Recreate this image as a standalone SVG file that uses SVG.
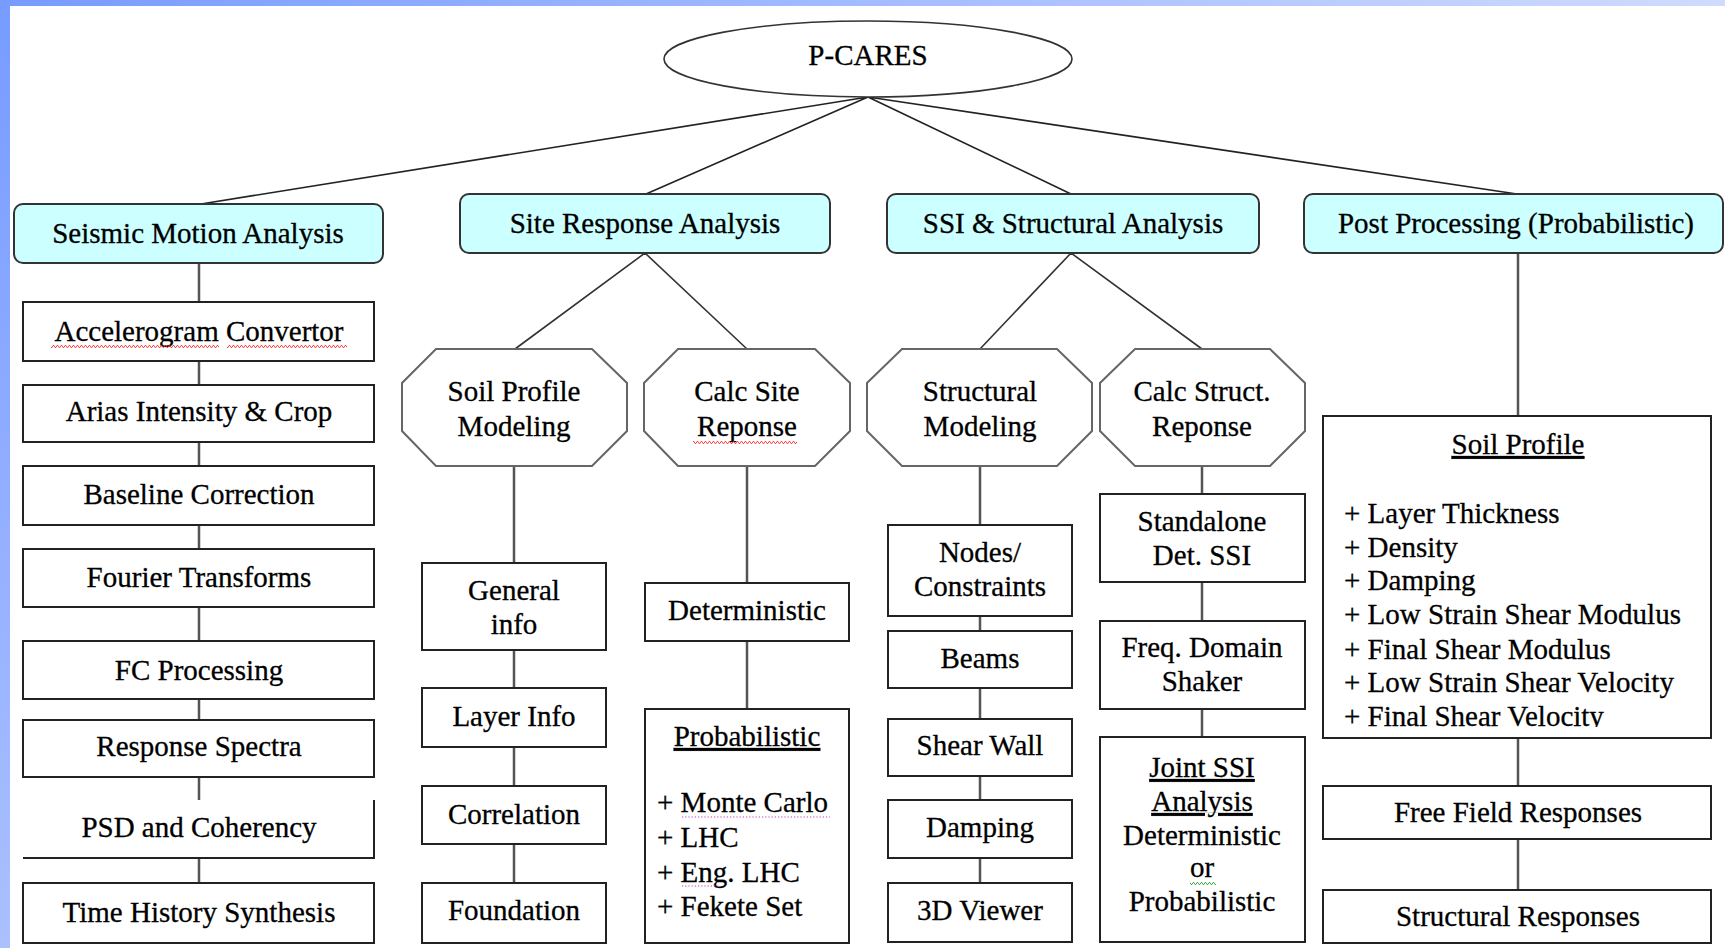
<svg xmlns="http://www.w3.org/2000/svg" width="1725" height="948" viewBox="0 0 1725 948">
<style>
text{font-family:'Times New Roman','Liberation Serif','Tinos','DejaVu Serif',serif;font-size:29px;fill:#000;stroke:#000;stroke-width:0.3;text-anchor:middle}
.l{text-anchor:start}
.u{text-decoration:underline}
.lvl1{fill:#ccffff;stroke:#333;stroke-width:2}
.box{fill:#fff;stroke:#222;stroke-width:2}
.oct{fill:#fff;stroke:#666;stroke-width:2}
.top{stroke:#222;stroke-width:1.6;fill:none}
.con{stroke:#555;stroke-width:2.5;fill:none}
.diag{stroke:#333;stroke-width:1.6;fill:none}
.sqr{fill:url(#wavyR)}
.sqg{fill:url(#wavyG)}
.dot{stroke:#c040c0;stroke-width:1.2;stroke-dasharray:1.2 2;fill:none}
</style>
<defs>
<linearGradient id="gTop" x1="0" y1="0" x2="1" y2="0"><stop offset="0" stop-color="#779bff"/><stop offset="1" stop-color="#cfdbff"/></linearGradient>
<linearGradient id="gLeft" x1="0" y1="0" x2="0" y2="1"><stop offset="0" stop-color="#779bff"/><stop offset="1" stop-color="#aac0ff"/></linearGradient>
<pattern id="wavyR" width="4" height="3" patternUnits="userSpaceOnUse"><path d="M0,2.5 L1,0.5 L2,0.5 L3,2.5 L4,2.5" stroke="#ff2020" stroke-width="0.8" fill="none"/></pattern>
<pattern id="wavyG" width="4" height="3" patternUnits="userSpaceOnUse"><path d="M0,2.5 L1,0.5 L2,0.5 L3,2.5 L4,2.5" stroke="#20a020" stroke-width="0.8" fill="none"/></pattern>
<clipPath id="clipSoil"><rect x="1324" y="417" width="386" height="310"/></clipPath>
</defs>
<rect width="1725" height="948" fill="#fff"/>
<rect x="0" y="0" width="1725" height="6" fill="url(#gTop)"/>
<rect x="0" y="0" width="10" height="948" fill="url(#gLeft)"/>

<g id="connectors">
<path class="top" d="M868,97 L201,204 M868,97 L646,194 M868,97 L1071,194 M868,97 L1517,194"/>
<path class="diag" d="M645,253 L515,349 M645,253 L747,349 M1071,253 L980,349 M1071,253 L1202,349"/>
<path class="con" d="M199,263 V302 M199,361 V385 M199,442 V466 M199,525 V549 M199,607 V641 M199,699 V720 M199,777 V800 M199,858 V883"/>
<path class="con" d="M514,466 V563 M514,650 V688 M514,747 V786 M514,844 V883"/>
<path class="con" d="M747,466 V583 M747,641 V709"/>
<path class="con" d="M980,466 V525 M980,616 V631 M980,688 V719 M980,776 V800 M980,858 V883"/>
<path class="con" d="M1202,466 V494 M1202,582 V621 M1202,709 V737"/>
<path class="con" d="M1518,253 V416 M1518,738 V786 M1518,839 V890"/>
</g>

<g id="pcares">
<ellipse cx="868" cy="59" rx="204" ry="38" fill="#fff" stroke="#333" stroke-width="1.6"/>
<text x="868" y="65">P-CARES</text>
</g>

<g id="seismic-motion-analysis">
<rect class="lvl1" x="14" y="204" width="369" height="59" rx="9"/>
<text x="198" y="243">Seismic Motion Analysis</text>
</g>
<g id="site-response-analysis">
<rect class="lvl1" x="460" y="194" width="370" height="59" rx="9"/>
<text x="645" y="233">Site Response Analysis</text>
</g>
<g id="ssi-structural-analysis">
<rect class="lvl1" x="887" y="194" width="372" height="59" rx="9"/>
<text x="1073" y="233">SSI &amp; Structural Analysis</text>
</g>
<g id="post-processing">
<rect class="lvl1" x="1304" y="194" width="419" height="59" rx="9"/>
<text x="1516" y="233">Post Processing (Probabilistic)</text>
</g>

<g id="accelerogram-convertor">
<rect class="box" x="23" y="302" width="351" height="59"/>
<text x="199" y="341">Accelerogram Convertor</text>
<rect class="sqr" x="51" y="345" width="168" height="3"/>
<rect class="sqr" x="227" y="345" width="120" height="3"/>
</g>
<g id="arias-intensity">
<rect class="box" x="23" y="385" width="351" height="57"/>
<text x="199" y="421">Arias Intensity &amp; Crop</text>
</g>
<g id="baseline-correction">
<rect class="box" x="23" y="466" width="351" height="59"/>
<text x="199" y="504">Baseline Correction</text>
</g>
<g id="fourier-transforms">
<rect class="box" x="23" y="549" width="351" height="58"/>
<text x="199" y="587">Fourier Transforms</text>
</g>
<g id="fc-processing">
<rect class="box" x="23" y="641" width="351" height="58"/>
<text x="199" y="680">FC Processing</text>
</g>
<g id="response-spectra">
<rect class="box" x="23" y="720" width="351" height="57"/>
<text x="199" y="756">Response Spectra</text>
</g>
<g id="psd-coherency">
<rect x="23" y="800" width="351" height="58" fill="#fff"/>
<path d="M374,800 V858 H23" fill="none" stroke="#222" stroke-width="2"/>
<text x="199" y="837">PSD and Coherency</text>
</g>
<g id="time-history-synthesis">
<rect class="box" x="23" y="883" width="351" height="60"/>
<text x="199" y="922">Time History Synthesis</text>
</g>

<g id="soil-profile-modeling">
<polygon class="oct" points="436,349 592,349 627,383 627,431 592,466 436,466 402,431 402,383"/>
<text x="514" y="401">Soil Profile</text>
<text x="514" y="436">Modeling</text>
</g>
<g id="calc-site-reponse">
<polygon class="oct" points="678,349 815,349 850,383 850,431 815,466 678,466 644,431 644,383"/>
<text x="747" y="401">Calc Site</text>
<text x="747" y="436">Reponse</text>
<rect class="sqr" x="693" y="441" width="104" height="3"/>
</g>
<g id="general-info">
<rect class="box" x="422" y="563" width="184" height="87"/>
<text x="514" y="600">General</text>
<text x="514" y="634">info</text>
</g>
<g id="layer-info">
<rect class="box" x="422" y="688" width="184" height="59"/>
<text x="514" y="726">Layer Info</text>
</g>
<g id="correlation">
<rect class="box" x="422" y="786" width="184" height="58"/>
<text x="514" y="824">Correlation</text>
</g>
<g id="foundation">
<rect class="box" x="422" y="883" width="184" height="60"/>
<text x="514" y="920">Foundation</text>
</g>
<g id="deterministic">
<rect class="box" x="645" y="583" width="204" height="58"/>
<text x="747" y="620">Deterministic</text>
</g>
<g id="probabilistic">
<rect class="box" x="645" y="709" width="204" height="234"/>
<text x="747" y="746" class="u">Probabilistic</text>
<text x="657" y="812" class="l">+ Monte Carlo</text>
<text x="657" y="847" class="l">+ LHC</text>
<text x="657" y="882" class="l">+ Eng. LHC</text>
<text x="657" y="916" class="l">+ Fekete Set</text>
<path class="dot" d="M682,817 H830 M682,886 H720"/>
</g>

<g id="structural-modeling">
<polygon class="oct" points="902,349 1057,349 1092,383 1092,431 1057,466 902,466 867,431 867,383"/>
<text x="980" y="401">Structural</text>
<text x="980" y="436">Modeling</text>
</g>
<g id="calc-struct-reponse">
<polygon class="oct" points="1135,349 1270,349 1305,383 1305,431 1270,466 1135,466 1100,431 1100,383"/>
<text x="1202" y="401">Calc Struct.</text>
<text x="1202" y="436">Reponse</text>
</g>
<g id="nodes-constraints">
<rect class="box" x="888" y="525" width="184" height="91"/>
<text x="980" y="562">Nodes/</text>
<text x="980" y="596">Constraints</text>
</g>
<g id="beams">
<rect class="box" x="888" y="631" width="184" height="57"/>
<text x="980" y="668">Beams</text>
</g>
<g id="shear-wall">
<rect class="box" x="888" y="719" width="184" height="57"/>
<text x="980" y="755">Shear Wall</text>
</g>
<g id="damping">
<rect class="box" x="888" y="800" width="184" height="58"/>
<text x="980" y="837">Damping</text>
</g>
<g id="viewer-3d">
<rect class="box" x="888" y="883" width="184" height="59"/>
<text x="980" y="920">3D Viewer</text>
</g>
<g id="standalone-det-ssi">
<rect class="box" x="1100" y="494" width="205" height="88"/>
<text x="1202" y="531">Standalone</text>
<text x="1202" y="565">Det. SSI</text>
</g>
<g id="freq-domain-shaker">
<rect class="box" x="1100" y="621" width="205" height="88"/>
<text x="1202" y="657">Freq. Domain</text>
<text x="1202" y="691">Shaker</text>
</g>
<g id="joint-ssi-analysis">
<rect class="box" x="1100" y="737" width="205" height="205"/>
<text x="1202" y="777" class="u">Joint SSI</text>
<text x="1202" y="811" class="u">Analysis</text>
<text x="1202" y="845">Deterministic</text>
<text x="1202" y="877">or</text>
<text x="1202" y="911">Probabilistic</text>
<rect class="sqg" x="1190" y="882" width="26" height="3"/>
</g>

<g id="soil-profile">
<rect class="box" x="1323" y="416" width="388" height="322"/>
<text x="1518" y="454" class="u">Soil Profile</text>
<g clip-path="url(#clipSoil)">
<text x="1344" y="523" class="l">+ Layer Thickness</text>
<text x="1344" y="557" class="l">+ Density</text>
<text x="1344" y="590" class="l">+ Damping</text>
<text x="1344" y="624" class="l">+ Low Strain Shear Modulus</text>
<text x="1344" y="659" class="l">+ Final Shear Modulus</text>
<text x="1344" y="692" class="l">+ Low Strain Shear Velocity</text>
<text x="1344" y="726" class="l">+ Final Shear Velocity</text>
</g>
</g>
<g id="free-field-responses">
<rect class="box" x="1323" y="786" width="388" height="53"/>
<text x="1518" y="822">Free Field Responses</text>
</g>
<g id="structural-responses">
<rect class="box" x="1323" y="890" width="388" height="53"/>
<text x="1518" y="926">Structural Responses</text>
</g>
</svg>
